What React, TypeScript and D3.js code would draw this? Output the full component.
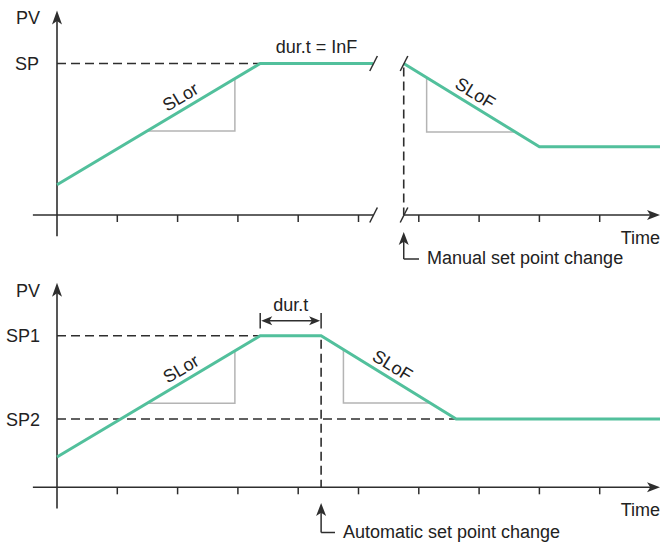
import React from 'react';
import * as d3 from 'd3';

const W = 660;
const H = 542;

// time axis (units = tick spacing)
const timeDomain = [0, 10];
const tickTimes = [1, 2, 3, 4, 5, 6, 7, 8, 9];
const pvDomain = [0, 100];

// top panel (manual set point change)
const topRiseT = [0, 3.37, 5.24];
const topRisePV = [20, 100, 100];
const topFallT = [5.75, 8.0, 10];
const topFallPV = [100, 45, 45];
const topBreakT = [5.25, 5.755];
const topSP = 100;
const topRiseTri = [1.49, 2.95];
const topFallTri = [6.13, 7.6];
const topLabelT = [2.15, 6.83];
const topDurText = 'dur.t = InF';

// bottom panel (automatic set point change)
const botT = [0, 3.37, 4.38, 6.62, 10];
const botPV = [20, 100, 100, 45, 45];
const botSP1 = 100;
const botSP2 = 45;
const botRiseTri = [1.49, 2.95];
const botFallTri = [4.75, 6.19];
const botLabelT = [2.16, 5.46];
const botDurT = [3.37, 4.38];

const GREEN = '#52c09c';
const AXIS = '#2e2e2e';
const GRAY = '#b4b4b4';
const FONT = 'Liberation Sans, Arial, sans-serif';

const x = d3.scaleLinear().domain(timeDomain).range([57, 660]);
const yTop = d3.scaleLinear().domain(pvDomain).range([215, 63.5]);
const yBot = d3.scaleLinear().domain(pvDomain).range([487.3, 335.7]);

type Pt = [number, number];
const zip = (ts: number[], vs: number[]): Pt[] => ts.map((t, i) => [t, vs[i]]);

function interp(pts: Pt[], t: number): number {
  for (let i = 0; i < pts.length - 1; i++) {
    const [t0, v0] = pts[i];
    const [t1, v1] = pts[i + 1];
    if (t >= t0 && t <= t1) return v0 + ((v1 - v0) * (t - t0)) / (t1 - t0);
  }
  return pts[pts.length - 1][1];
}

function ArrowHead({ tx, ty, dir, len = 13, hw = 5 }: { tx: number; ty: number; dir: 'up' | 'right' | 'left'; len?: number; hw?: number }) {
  const notch = len * 0.25;
  let d = '';
  if (dir === 'up') d = `M${tx},${ty} L${tx + hw},${ty + len} L${tx},${ty + len - notch} L${tx - hw},${ty + len} Z`;
  if (dir === 'right') d = `M${tx},${ty} L${tx - len},${ty - hw} L${tx - len + notch},${ty} L${tx - len},${ty + hw} Z`;
  if (dir === 'left') d = `M${tx},${ty} L${tx + len},${ty - hw} L${tx + len - notch},${ty} L${tx + len},${ty + hw} Z`;
  return <path d={d} fill={AXIS} stroke="none" />;
}

function Slash({ cx, cy }: { cx: number; cy: number }) {
  return <line x1={cx - 3.8} y1={cy + 7.5} x2={cx + 3.8} y2={cy - 7.5} stroke={AXIS} strokeWidth={1.5} />;
}

const line = d3.line<Pt>();

function SlopeLabel({ pts, t, y, text }: { pts: Pt[]; t: number; y: d3.ScaleLinear<number, number>; text: string }) {
  const px = x(t);
  const py = y(interp(pts, t));
  const p2x = x(t + 0.1);
  const p2y = y(interp(pts, t + 0.1));
  const ang = (Math.atan2(p2y - py, p2x - px) * 180) / Math.PI;
  return (
    <text transform={`translate(${px},${py}) rotate(${ang})`} y={-6} textAnchor="middle" fontSize={18} fontFamily={FONT} fill="#222">
      {text}
    </text>
  );
}

function RiseTri({ pts, tt, y }: { pts: Pt[]; tt: number[]; y: d3.ScaleLinear<number, number> }) {
  const x1 = x(tt[0]);
  const x2 = x(tt[1]);
  const y1 = y(interp(pts, tt[0]));
  const y2 = y(interp(pts, tt[1]));
  return <path d={`M${x1},${y1} L${x2},${y1} L${x2},${y2}`} fill="none" stroke={GRAY} strokeWidth={1.5} />;
}

function FallTri({ pts, tt, y }: { pts: Pt[]; tt: number[]; y: d3.ScaleLinear<number, number> }) {
  const x1 = x(tt[0]);
  const x2 = x(tt[1]);
  const y1 = y(interp(pts, tt[0]));
  const y2 = y(interp(pts, tt[1]));
  return <path d={`M${x1},${y1} L${x1},${y2} L${x2},${y2}`} fill="none" stroke={GRAY} strokeWidth={1.5} />;
}

function Axes({ y, breakT }: { y: d3.ScaleLinear<number, number>; breakT?: number[] }) {
  const y0 = y(0);
  const yTopTip = y(135);
  const xLeft = x(-0.4);
  const xEnd = x(10);
  const segs: number[][] = breakT ? [[xLeft, x(breakT[0])], [x(breakT[1]), xEnd - 6]] : [[xLeft, xEnd - 6]];
  return (
    <g>
      <line x1={x(0)} y1={y(-14)} x2={x(0)} y2={yTopTip + 6} stroke={AXIS} strokeWidth={1.6} />
      <ArrowHead tx={x(0)} ty={yTopTip} dir="up" len={14} hw={5} />
      {segs.map((s, i) => (
        <line key={i} x1={s[0]} y1={y0} x2={s[1]} y2={y0} stroke={AXIS} strokeWidth={1.6} />
      ))}
      <ArrowHead tx={xEnd} ty={y0} dir="right" len={13} hw={5} />
      {tickTimes.map((t) => (
        <line key={t} x1={x(t)} y1={y0} x2={x(t)} y2={y0 + 7} stroke={AXIS} strokeWidth={1.5} />
      ))}
      {breakT && breakT.map((t) => <Slash key={t} cx={x(t)} cy={y0} />)}
      <text x={660} y={y0 + 29} textAnchor="end" fontSize={18} fontFamily={FONT} fill="#222">Time</text>
      <text x={16} y={yTopTip + 14} fontSize={18} fontFamily={FONT} fill="#222">PV</text>
    </g>
  );
}

export default function App() {
  const topA = zip(topRiseT, topRisePV);
  const topB = zip(topFallT, topFallPV);
  const bot = zip(botT, botPV);
  const dash = '9,5';

  return (
    <svg width={W} height={H} style={{ position: 'absolute', left: 0, top: 0, background: '#fff' }}>
      {/* ===== TOP PANEL ===== */}
      <Axes y={yTop} breakT={topBreakT} />
      <line x1={x(0)} y1={yTop(topSP)} x2={x(topRiseT[1])} y2={yTop(topSP)} stroke={AXIS} strokeWidth={1.5} strokeDasharray={dash} />
      <text x={39} y={yTop(topSP) + 6.5} textAnchor="end" fontSize={18} fontFamily={FONT} fill="#222">SP</text>
      <line x1={x(topFallT[0])} y1={yTop(topSP) + 4} x2={x(topFallT[0])} y2={yTop(0)} stroke={AXIS} strokeWidth={1.6} strokeDasharray={dash} />
      <RiseTri pts={topA} tt={topRiseTri} y={yTop} />
      <FallTri pts={topB} tt={topFallTri} y={yTop} />
      <path d={line(topA.map(([t, v]) => [x(t), yTop(v)] as Pt)) || ''} fill="none" stroke={GREEN} strokeWidth={3} />
      <path d={line(topB.map(([t, v]) => [x(t), yTop(v)] as Pt)) || ''} fill="none" stroke={GREEN} strokeWidth={3} />
      {topBreakT.map((t) => <Slash key={t} cx={x(t)} cy={yTop(topSP)} />)}
      <SlopeLabel pts={topA} t={topLabelT[0]} y={yTop} text="SLor" />
      <SlopeLabel pts={topB} t={topLabelT[1]} y={yTop} text="SLoF" />
      <text x={(x(topRiseT[1]) + x(topRiseT[2])) / 2} y={yTop(topSP) - 11} textAnchor="middle" fontSize={18} fontFamily={FONT} fill="#222">{topDurText}</text>
      {/* manual set point change annotation */}
      <line x1={x(topFallT[0])} y1={240} x2={x(topFallT[0])} y2={259} stroke={AXIS} strokeWidth={1.5} />
      <line x1={x(topFallT[0])} y1={259} x2={419} y2={259} stroke={AXIS} strokeWidth={1.5} />
      <ArrowHead tx={x(topFallT[0])} ty={232} dir="up" len={13} hw={5} />
      <text x={427} y={264} fontSize={18} fontFamily={FONT} fill="#222">Manual set point change</text>

      {/* ===== BOTTOM PANEL ===== */}
      <Axes y={yBot} />
      <line x1={x(0)} y1={yBot(botSP1)} x2={x(botT[1])} y2={yBot(botSP1)} stroke={AXIS} strokeWidth={1.5} strokeDasharray={dash} />
      <line x1={x(0)} y1={yBot(botSP2)} x2={x(botT[3])} y2={yBot(botSP2)} stroke={AXIS} strokeWidth={1.5} strokeDasharray={dash} />
      <text x={40} y={yBot(botSP1) + 6.5} textAnchor="end" fontSize={18} fontFamily={FONT} fill="#222">SP1</text>
      <text x={40} y={yBot(botSP2) + 6.5} textAnchor="end" fontSize={18} fontFamily={FONT} fill="#222">SP2</text>
      <line x1={x(botDurT[1])} y1={yBot(botSP1) + 4} x2={x(botDurT[1])} y2={yBot(0)} stroke={AXIS} strokeWidth={1.6} strokeDasharray={dash} />
      <RiseTri pts={bot} tt={botRiseTri} y={yBot} />
      <FallTri pts={bot} tt={botFallTri} y={yBot} />
      <path d={line(bot.map(([t, v]) => [x(t), yBot(v)] as Pt)) || ''} fill="none" stroke={GREEN} strokeWidth={3} />
      <SlopeLabel pts={bot} t={botLabelT[0]} y={yBot} text="SLor" />
      <SlopeLabel pts={bot} t={botLabelT[1]} y={yBot} text="SLoF" />
      {/* dur.t bracket */}
      {botDurT.map((t) => (
        <line key={t} x1={x(t)} y1={313} x2={x(t)} y2={328.5} stroke={AXIS} strokeWidth={1.5} />
      ))}
      <line x1={x(botDurT[0]) + 4} y1={320.7} x2={x(botDurT[1]) - 4} y2={320.7} stroke={AXIS} strokeWidth={1.5} />
      <ArrowHead tx={x(botDurT[0]) + 1} ty={320.7} dir="left" len={11} hw={4.5} />
      <ArrowHead tx={x(botDurT[1]) - 1} ty={320.7} dir="right" len={11} hw={4.5} />
      <text x={(x(botDurT[0]) + x(botDurT[1])) / 2} y={311} textAnchor="middle" fontSize={18} fontFamily={FONT} fill="#222">dur.t</text>
      {/* automatic set point change annotation */}
      <line x1={x(botDurT[1])} y1={512} x2={x(botDurT[1])} y2={532.5} stroke={AXIS} strokeWidth={1.5} />
      <line x1={x(botDurT[1])} y1={532.5} x2={335} y2={532.5} stroke={AXIS} strokeWidth={1.5} />
      <ArrowHead tx={x(botDurT[1])} ty={503} dir="up" len={13} hw={5} />
      <text x={343} y={537.5} fontSize={18} fontFamily={FONT} fill="#222">Automatic set point change</text>
    </svg>
  );
}
